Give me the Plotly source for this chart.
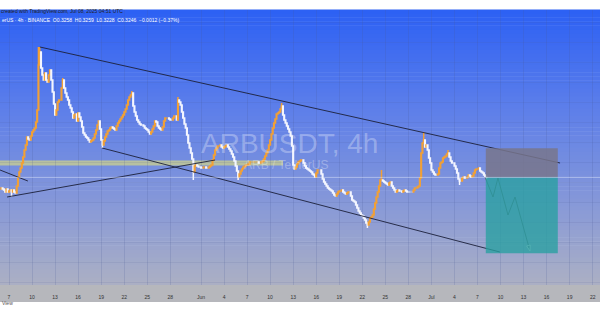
import plotly.graph_objects as go
import pandas as pd

# ---------------- data ----------------
START = pd.Timestamp("2025-05-06 00:00")   # first 4h candle
STEP = pd.Timedelta(hours=4)

# 4h closes, one row per day (6 candles / day)
closes_by_day = [
    [0.314, 0.313, 0.312, 0.310, 0.313, 0.310],  # May 6
    [0.311, 0.312, 0.310, 0.312, 0.310, 0.309],  # May 7
    [0.316, 0.325, 0.330, 0.334, 0.339, 0.345],  # May 8
    [0.352, 0.357, 0.365, 0.363, 0.362, 0.366],  # May 9
    [0.370, 0.372, 0.374, 0.380, 0.392, 0.437],  # May 10
    [0.450, 0.434, 0.427, 0.422, 0.429, 0.422],  # May 11
    [0.420, 0.427, 0.432, 0.422, 0.410, 0.398],  # May 12
    [0.387, 0.392, 0.400, 0.402, 0.402, 0.414],  # May 13
    [0.422, 0.414, 0.409, 0.405, 0.402, 0.397],  # May 14
    [0.394, 0.390, 0.384, 0.387, 0.388, 0.381],  # May 15
    [0.389, 0.385, 0.381, 0.375, 0.369, 0.367],  # May 16
    [0.365, 0.364, 0.362, 0.360, 0.361, 0.362],  # May 17
    [0.364, 0.368, 0.372, 0.377, 0.381, 0.373],  # May 18
    [0.362, 0.357, 0.361, 0.365, 0.368, 0.371],  # May 19
    [0.372, 0.374, 0.375, 0.374, 0.373, 0.372],  # May 20
    [0.376, 0.379, 0.381, 0.383, 0.385, 0.387],  # May 21
    [0.390, 0.393, 0.397, 0.402, 0.405, 0.407],  # May 22
    [0.409, 0.396, 0.390, 0.386, 0.382, 0.380],  # May 23
    [0.378, 0.377, 0.377, 0.376, 0.374, 0.373],  # May 24
    [0.372, 0.370, 0.368, 0.370, 0.373, 0.376],  # May 25
    [0.381, 0.380, 0.376, 0.374, 0.373, 0.372],  # May 26
    [0.375, 0.381, 0.384, 0.384, 0.384, 0.383],  # May 27
    [0.382, 0.382, 0.384, 0.386, 0.386, 0.382],  # May 28
    [0.402, 0.400, 0.397, 0.390, 0.384, 0.378],  # May 29
    [0.374, 0.367, 0.359, 0.354, 0.349, 0.343],  # May 30
    [0.330, 0.336, 0.337, 0.336, 0.335, 0.335],  # May 31
    [0.334, 0.334, 0.335, 0.335, 0.334, 0.334],  # Jun 1
    [0.335, 0.336, 0.337, 0.342, 0.347, 0.352],  # Jun 2
    [0.354, 0.356, 0.356, 0.357, 0.355, 0.354],  # Jun 3
    [0.355, 0.356, 0.357, 0.355, 0.353, 0.351],  # Jun 4
    [0.348, 0.345, 0.341, 0.336, 0.331, 0.325],  # Jun 5
    [0.328, 0.331, 0.333, 0.335, 0.336, 0.337],  # Jun 6
    [0.337, 0.338, 0.340, 0.340, 0.340, 0.340],  # Jun 7
    [0.340, 0.340, 0.340, 0.339, 0.339, 0.340],  # Jun 8
    [0.341, 0.343, 0.346, 0.349, 0.352, 0.357],  # Jun 9
    [0.362, 0.368, 0.374, 0.379, 0.383, 0.388],  # Jun 10
    [0.389, 0.390, 0.393, 0.396, 0.387, 0.382],  # Jun 11
    [0.379, 0.376, 0.373, 0.370, 0.366, 0.356],  # Jun 12
    [0.337, 0.333, 0.335, 0.338, 0.340, 0.341],  # Jun 13
    [0.342, 0.342, 0.339, 0.336, 0.334, 0.333],  # Jun 14
    [0.332, 0.331, 0.330, 0.328, 0.327, 0.325],  # Jun 15
    [0.329, 0.332, 0.332, 0.332, 0.328, 0.323],  # Jun 16
    [0.320, 0.318, 0.316, 0.314, 0.313, 0.312],  # Jun 17
    [0.311, 0.309, 0.307, 0.306, 0.308, 0.310],  # Jun 18
    [0.311, 0.311, 0.312, 0.310, 0.309, 0.308],  # Jun 19
    [0.309, 0.310, 0.310, 0.306, 0.302, 0.301],  # Jun 20
    [0.300, 0.297, 0.294, 0.291, 0.289, 0.287],  # Jun 21
    [0.286, 0.284, 0.282, 0.279, 0.277, 0.280],  # Jun 22
    [0.284, 0.285, 0.287, 0.293, 0.299, 0.305],  # Jun 23
    [0.310, 0.316, 0.322, 0.322, 0.321, 0.320],  # Jun 24
    [0.319, 0.318, 0.317, 0.319, 0.320, 0.316],  # Jun 25
    [0.314, 0.312, 0.310, 0.311, 0.312, 0.311],  # Jun 26
    [0.311, 0.310, 0.311, 0.312, 0.311, 0.310],  # Jun 27
    [0.310, 0.310, 0.310, 0.310, 0.312, 0.314],  # Jun 28
    [0.314, 0.315, 0.316, 0.324, 0.349, 0.359],  # Jun 29
    [0.362, 0.355, 0.357, 0.352, 0.344, 0.339],  # Jun 30
    [0.332, 0.330, 0.328, 0.327, 0.327, 0.328],  # Jul 1
    [0.334, 0.339, 0.340, 0.344, 0.345, 0.346],  # Jul 2
    [0.348, 0.349, 0.345, 0.341, 0.339, 0.339],  # Jul 3
    [0.336, 0.333, 0.329, 0.323, 0.321, 0.321],  # Jul 4
    [0.324, 0.325, 0.324, 0.324, 0.325, 0.327],  # Jul 5
    [0.326, 0.325, 0.326, 0.329, 0.332, 0.333],  # Jul 6
    [0.333, 0.334, 0.331, 0.330, 0.329, 0.327],  # Jul 7
    [0.3258, 0.3246],                            # Jul 8
]
first_open = 0.313
# notable wick extremes: candle index -> price
wick_highs = {29: 0.455, 30: 0.455, 48: 0.424, 102: 0.411, 138: 0.405,
              219: 0.399, 297: 0.332, 330: 0.370, 349: 0.352, 379: 0.3259}
wick_lows = {8: 0.305, 79: 0.354, 150: 0.322, 185: 0.322, 286: 0.274,
             358: 0.317, 379: 0.3228}

# x-axis ticks
tick_dates = ["2025-05-07", "2025-05-10", "2025-05-13", "2025-05-16", "2025-05-19",
              "2025-05-22", "2025-05-25", "2025-05-28", "2025-06-01", "2025-06-04",
              "2025-06-07", "2025-06-10", "2025-06-13", "2025-06-16", "2025-06-19",
              "2025-06-22", "2025-06-25", "2025-06-28", "2025-07-01", "2025-07-04",
              "2025-07-07", "2025-07-10", "2025-07-13", "2025-07-16", "2025-07-19",
              "2025-07-22"]
tick_text = ["7", "10", "13", "16", "19", "22", "25", "28", "Jun", "4", "7", "10", "13",
             "16", "19", "22", "25", "28", "Jul", "4", "7", "10", "13", "16", "19", "22"]

# drawings
upper_line_t = ["2025-05-11 00:30", "2025-07-17 18:00"]
upper_line_p = [0.455, 0.339]
lower_line_t = ["2025-05-19 03:00", "2025-07-09 22:00"]
lower_line_p = [0.354, 0.250]
rising_line_t = ["2025-05-06 18:00", "2025-06-02 20:00"]
rising_line_p = [0.305, 0.342]
short_line_t = ["2025-05-05 20:00", "2025-05-09 11:00"]
short_line_p = [0.332, 0.321]
zone_t = ["2025-05-05 12:00", "2025-06-11 16:00"]
zone_p = [0.3365, 0.3415]
position_t = ["2025-07-08 02:00", "2025-07-17 11:00"]
stop_price, entry_price, target_price = 0.3537, 0.3246, 0.2487
proj_t = ["2025-07-07 23:30", "2025-07-09 00:30", "2025-07-09 16:00",
          "2025-07-10 23:20", "2025-07-11 21:20", "2025-07-13 20:00"]
proj_p = [0.325, 0.305, 0.324, 0.287, 0.305, 0.251]
last_price = 0.3246

# ---------------- build candles ----------------
closes = [c for day in closes_by_day for c in day]
opens = [first_open] + closes[:-1]
times = [START + STEP * k for k in range(len(closes))]
highs = [wick_highs.get(k, max(o, c)) for k, (o, c) in enumerate(zip(opens, closes))]
lows = [wick_lows.get(k, min(o, c)) for k, (o, c) in enumerate(zip(opens, closes))]

W, H = 600, 315
M_T, M_B = 10, 30
PH = H - M_T - M_B


def py(px):  # pixel row -> paper y
    return (H - M_B - px) / PH


fig = go.Figure()

# gradient background bands
stops = [(0.0, (172, 176, 196)), (0.3, (134, 152, 216)), (0.65, (92, 126, 234)), (1.0, (44, 96, 244))]


def col(f):
    for (f0, c0), (f1, c1) in zip(stops[:-1], stops[1:]):
        if f0 <= f <= f1:
            r = (f - f0) / (f1 - f0)
            return "rgb(%d,%d,%d)" % tuple(round(a + (b - a) * r) for a, b in zip(c0, c1))
    return "rgb(%d,%d,%d)" % stops[-1][1]


shapes = []
NB = 70
for i in range(NB):
    f0, f1 = i / NB, (i + 1) / NB
    shapes.append(dict(type="rect", xref="paper", yref="paper", x0=0, x1=1, y0=f0, y1=f1 + 0.002,
                       fillcolor=col((f0 + f1) / 2), line=dict(width=0), layer="below"))
# x-axis band
shapes.append(dict(type="rect", xref="paper", yref="paper", x0=0, x1=1, y0=py(302), y1=0,
                   fillcolor="#b6b7bc", line=dict(width=0), layer="below"))
# horizontal zone
shapes.append(dict(type="rect", xref="x", yref="y", x0=zone_t[0], x1=zone_t[1],
                   y0=zone_p[0], y1=zone_p[1], fillcolor="rgba(205,210,140,0.75)",
                   line=dict(width=0), layer="below"))
# short position boxes
shapes.append(dict(type="rect", xref="x", yref="y", x0=position_t[0], x1=position_t[1],
                   y0=entry_price, y1=stop_price, fillcolor="rgba(120,118,140,0.85)",
                   line=dict(width=0), layer="above"))
shapes.append(dict(type="rect", xref="x", yref="y", x0=position_t[0], x1=position_t[1],
                   y0=target_price, y1=entry_price, fillcolor="rgba(40,160,160,0.78)",
                   line=dict(width=0), layer="above"))
# last price line
shapes.append(dict(type="line", xref="paper", yref="y", x0=0, x1=1, y0=last_price, y1=last_price,
                   line=dict(color="rgba(235,240,255,0.45)", width=1), layer="above"))

fig.add_trace(go.Candlestick(
    x=times, open=opens, high=highs, low=lows, close=closes,
    increasing=dict(line=dict(color="#f2a035", width=1.5), fillcolor="#f2a035"),
    decreasing=dict(line=dict(color="#f4f6ff", width=1.5), fillcolor="#f4f6ff"),
    whiskerwidth=0, showlegend=False, hoverinfo="skip"))

line_style = dict(color="rgba(28,32,58,0.9)", width=1)
for t, p in [(upper_line_t, upper_line_p), (lower_line_t, lower_line_p),
             (rising_line_t, rising_line_p), (short_line_t, short_line_p)]:
    fig.add_trace(go.Scatter(x=t, y=p, mode="lines", line=line_style,
                             showlegend=False, hoverinfo="skip", cliponaxis=True))

fig.add_trace(go.Scatter(x=proj_t, y=proj_p, mode="lines+markers",
                         line=dict(color="rgba(70,80,100,0.8)", width=1),
                         marker=dict(symbol="arrow", angleref="previous",
                                     size=[0] * (len(proj_t) - 1) + [6],
                                     color="rgba(70,80,100,0.8)"),
                         showlegend=False, hoverinfo="skip"))

# event marker on time axis
fig.add_trace(go.Scatter(x=[times[-1]], y=[0.215], mode="markers", cliponaxis=False,
                         marker=dict(size=8, color="white", line=dict(color="#b050d8", width=1.6)),
                         showlegend=False, hoverinfo="skip"))
fig.add_trace(go.Scatter(x=[times[-1] + pd.Timedelta(hours=5)], y=[0.2165], mode="markers",
                         cliponaxis=False, marker=dict(size=3, color="#e0407a"),
                         showlegend=False, hoverinfo="skip"))

annotations = [
    dict(text="ARBUSDT, 4h", x=289 / W, y=py(143), xref="paper", yref="paper",
         showarrow=False, font=dict(family="Liberation Sans", size=28, color="rgba(255,255,255,0.3)")),
    dict(text="ARB / TetherUS", x=286 / W, y=py(165), xref="paper", yref="paper",
         showarrow=False, font=dict(family="Liberation Sans", size=12, color="rgba(255,255,255,0.3)")),
    dict(text="created with TradingView.com, Jul 08, 2025 04:51 UTC", x=-1 / W, y=py(5.5),
         xref="paper", yref="paper", xanchor="left", showarrow=False,
         font=dict(family="Liberation Sans", size=5, color="#222222")),
    dict(text="erUS · 4h · BINANCE  O0.3258  H0.3259  L0.3228  C0.3246  −0.0012 (−0.37%)",
         x=0, y=py(15), xref="paper", yref="paper", xanchor="left", showarrow=False,
         font=dict(family="Liberation Sans", size=5, color="#ffffff")),
    dict(text="View", x=0, y=py(308), xref="paper", yref="paper", xanchor="left",
         showarrow=False, font=dict(family="Liberation Sans", size=5, color="#555555")),
]

fig.update_layout(
    width=W, height=H, margin=dict(l=0, r=0, t=M_T, b=M_B),
    paper_bgcolor="white", plot_bgcolor="rgba(0,0,0,0)",
    shapes=shapes, annotations=annotations, showlegend=False,
    xaxis=dict(range=["2025-05-05 19:52", "2025-07-22 22:52"], tickvals=tick_dates, ticktext=tick_text,
               showgrid=True, gridcolor="rgba(70,90,150,0.18)", gridwidth=1, zeroline=False,
               showline=False, ticks="", tickfont=dict(family="Liberation Sans", size=5, color="#333333"),
               ticklabelstandoff=8, rangeslider=dict(visible=False), fixedrange=True),
    yaxis=dict(range=[0.217, 0.492], showticklabels=False, showgrid=True, dtick=0.02,
               gridcolor="rgba(70,90,150,0.12)", zeroline=False, showline=False, fixedrange=True),
)

fig.write_html("out.html")
